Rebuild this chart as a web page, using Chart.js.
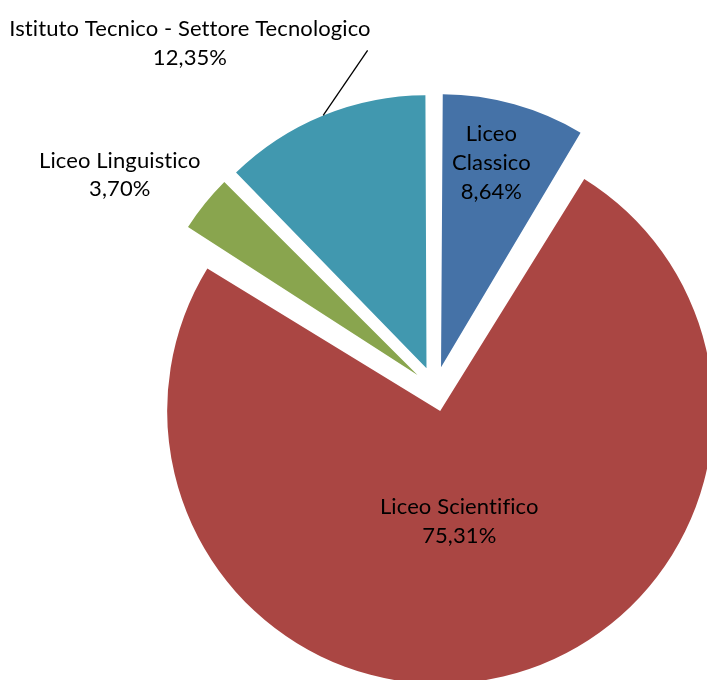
<!DOCTYPE html>
<html><head><meta charset="utf-8">
<script src="https://cdn.jsdelivr.net/npm/chart.js@4"></script>
<style>html,body{margin:0;padding:0;background:#fff;overflow:hidden}</style>
</head><body>
<canvas id="c" width="707" height="680"></canvas>
<script>
const categories = ['Liceo Classico', 'Liceo Scientifico', 'Liceo Linguistico', 'Istituto Tecnico - Settore Tecnologico'];
const values = [8.64, 75.31, 3.70, 12.35];
const colors = ['#4572A7', '#AA4643', '#89A54E', '#4198AF'];

// label placement (style): polar position relative to each exploded slice apex
const labelPlacement = [
  {dAngle: -1.75, dist: 0.773, wrap: true,  leader: false},
  {dAngle: 3.5,   dist: 0.409, wrap: false, leader: false},
  {dAngle: -4.9,  dist: 1.315, wrap: false, leader: false},
  {dAngle: -13.8, dist: 1.473, wrap: false, leader: true}
];
const R = 273, OFFSET = 90;
const FONT_SIZE = 22, LINE_H = 28.7, FONT_FAMILY = 'Lato, Carlito, Calibri, sans-serif';

const radiusFix = {
  id: 'radiusFix',
  afterDatasetsUpdate(chart) {
    const meta = chart.getDatasetMeta(0);
    meta.data.forEach(el => {
      const circ = el.endAngle - el.startAngle;
      const fix = 1 - Math.sin(Math.min(Math.PI, circ));
      el.outerRadius = R - (OFFSET / 4) * fix;
    });
  }
};

const sliceLabels = {
  id: 'sliceLabels',
  afterDatasetsDraw(chart) {
    const ctx = chart.ctx;
    const meta = chart.getDatasetMeta(0);
    const total = values.reduce((a, b) => a + b, 0);
    ctx.save();
    ctx.font = FONT_SIZE + 'px ' + FONT_FAMILY;
    if ('letterSpacing' in ctx) ctx.letterSpacing = '0.1px';
    ctx.fillStyle = '#000';
    ctx.textAlign = 'center';
    ctx.textBaseline = 'alphabetic';
    const capH = FONT_SIZE * 0.7;
    meta.data.forEach((el, i) => {
      const mid = (el.startAngle + el.endAngle) / 2;
      const t = OFFSET / 4;
      const ax = el.x + Math.cos(mid) * t, ay = el.y + Math.sin(mid) * t;
      const p = labelPlacement[i];
      const a = mid + p.dAngle * Math.PI / 180;
      const cx = ax + Math.cos(a) * p.dist * R, cy = ay + Math.sin(a) * p.dist * R;
      const pct = (values[i] / total * 100).toFixed(2).replace('.', ',') + '%';
      const lines = (p.wrap ? categories[i].split(' ') : [categories[i]]).concat([pct]);
      lines.forEach((ln, k) => {
        const by = cy + (k - (lines.length - 1) / 2) * LINE_H + capH / 2;
        ctx.fillText(ln, cx, by);
      });
      if (p.leader) {
        const w = ctx.measureText(lines[0]).width;
        const b1 = cy - (lines.length - 1) / 2 * LINE_H + capH / 2;
        const ex = cx + w / 2 - 3, ey = b1 + 14;
        const sx = ax + Math.cos(mid) * R, sy = ay + Math.sin(mid) * R;
        ctx.beginPath();
        ctx.strokeStyle = '#000';
        ctx.lineWidth = 1.3;
        ctx.moveTo(sx, sy);
        ctx.lineTo(ex, ey);
        ctx.stroke();
      }
    });
    ctx.restore();
  }
};

new Chart(document.getElementById('c'), {
  type: 'pie',
  data: {
    labels: categories,
    datasets: [{
      data: values,
      backgroundColor: colors,
      borderWidth: 0,
      offset: OFFSET,
      hoverOffset: OFFSET,
      radius: R,
      clip: false
    }]
  },
  options: {
    responsive: false,
    animation: false,
    radius: R,
    events: [],
    layout: {padding: {left: 163, top: 98, right: 0, bottom: 0}},
    plugins: {legend: {display: false}, tooltip: {enabled: false}}
  },
  plugins: [radiusFix, sliceLabels]
});
</script>
</body></html>
